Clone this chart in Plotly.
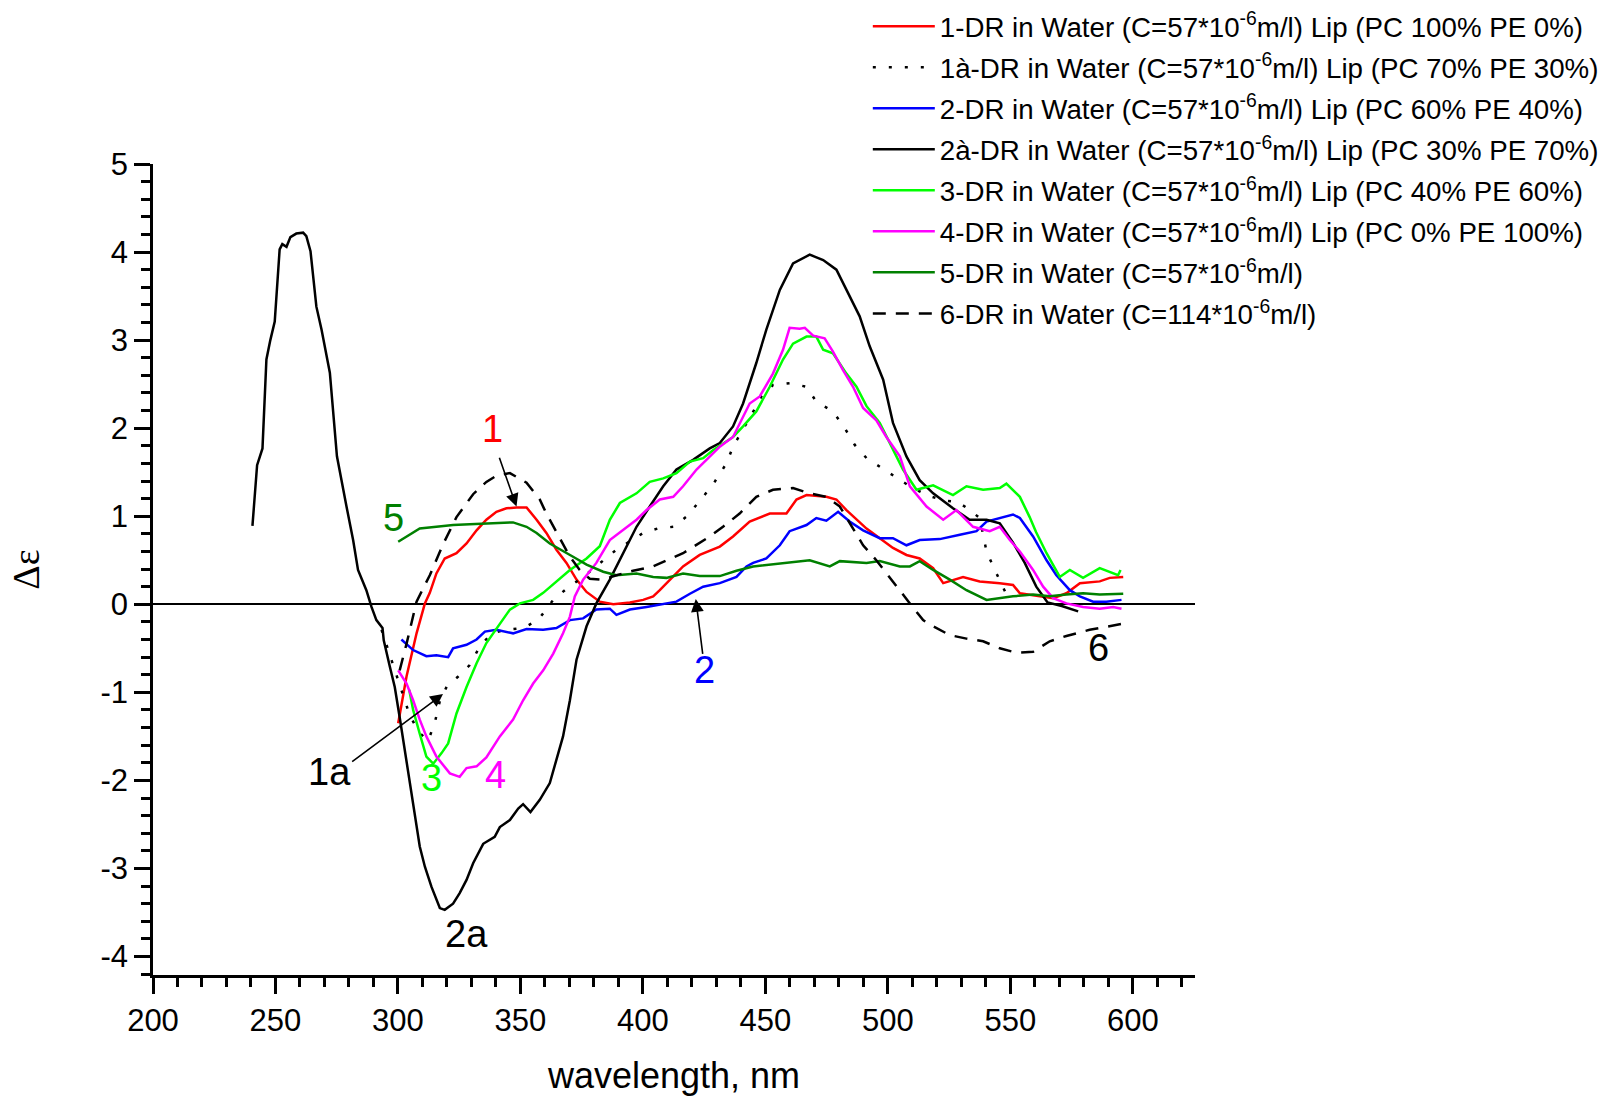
import plotly.graph_objects as go

# ---------------- data (wavelength nm, delta epsilon) ----------------
x1 = [300.1, 303.5, 307.6, 311.0, 313.0, 315.7, 319.1, 323.9, 328.0, 332.1, 336.1, 340.2, 344.3, 348.4,
      352.5, 356.6, 360.6, 364.7, 368.8, 372.9, 377.0, 382.4, 387.9, 394.7, 400.1, 404.2, 406.9, 411.0,
      416.4, 423.2, 431.4, 436.8, 443.6, 451.8, 458.6, 462.7, 466.8, 474.9, 479.0, 483.1, 487.2, 491.3,
      496.7, 502.1, 507.6, 513.0, 518.5, 522.6, 530.7, 537.5, 545.7, 551.1, 553.9, 562.0, 567.5, 572.9,
      578.4, 586.5, 590.6, 596.1]
y1 = [-1.35, -0.82, -0.33, 0.01, 0.13, 0.35, 0.52, 0.58, 0.69, 0.84, 0.96, 1.05, 1.09, 1.10,
      1.10, 0.96, 0.81, 0.62, 0.47, 0.28, 0.14, 0.03, 0.00, 0.02, 0.05, 0.09, 0.16, 0.28,
      0.43, 0.56, 0.655, 0.77, 0.94, 1.03, 1.03, 1.19, 1.24, 1.22, 1.19, 1.07, 0.96, 0.86,
      0.75, 0.64, 0.56, 0.52, 0.41, 0.24, 0.31, 0.26, 0.24, 0.22, 0.125, 0.09, 0.07, 0.125,
      0.24, 0.26, 0.30, 0.31]

x1a = [293.3, 295.6, 297.8, 300.0, 304.8, 308.5, 312.3, 315.0, 317.1, 320.0, 324.6, 329.3, 333.4, 338.2,
       344.0, 351.1, 357.2, 363.4, 369.0, 375.6, 382.0, 389.2, 395.0, 400.1, 406.0, 412.4, 418.0, 424.6,
       429.3, 434.1, 436.8, 440.9, 444.3, 448.4, 453.1, 459.9, 466.8, 470.8, 477.6, 482.4, 486.5, 491.3,
       496.7, 502.8, 509.0, 515.8, 522.6, 528.7, 533.0, 537.5, 540.3, 543.0, 546.4, 549.8]
y1a = [-0.29, -0.48, -0.67, -0.86, -1.26, -1.45, -1.55, -1.35, -1.10, -0.93, -0.82, -0.69, -0.48, -0.33,
       -0.29, -0.27, -0.18, 0.05, 0.18, 0.31, 0.46, 0.62, 0.72, 0.81, 0.86, 0.88, 1.00, 1.22,
       1.39, 1.60, 1.79, 1.98, 2.15, 2.36, 2.49, 2.51, 2.47, 2.30, 2.19, 2.00, 1.81, 1.66,
       1.56, 1.45, 1.34, 1.24, 1.18, 1.16, 1.08, 0.98, 0.60, 0.43, 0.22, 0.03]

x2 = [301.4, 306.2, 311.6, 315.7, 320.5, 322.5, 328.0, 332.1, 335.5, 340.2, 347.0, 352.5, 359.3, 364.7,
      370.2, 375.6, 381.0, 386.5, 389.2, 394.7, 401.5, 408.3, 413.7, 419.2, 424.6, 431.4, 438.2, 442.3,
      445.0, 450.4, 455.9, 459.9, 466.8, 470.8, 474.9, 479.7, 484.4, 489.9, 496.7, 502.1, 507.6, 513.0,
      521.2, 529.4, 536.2, 540.3, 545.7, 551.1, 553.9, 559.3, 564.8, 568.8, 574.3, 578.4, 583.8, 589.2,
      595.4]
y2 = [-0.40, -0.52, -0.59, -0.58, -0.60, -0.50, -0.46, -0.40, -0.31, -0.29, -0.33, -0.28, -0.29, -0.27,
      -0.18, -0.16, -0.06, -0.05, -0.12, -0.06, -0.03, 0.00, 0.03, 0.12, 0.20, 0.24, 0.31, 0.43,
      0.47, 0.52, 0.67, 0.83, 0.90, 0.98, 0.95, 1.05, 0.94, 0.84, 0.75, 0.75, 0.67, 0.73,
      0.74, 0.79, 0.83, 0.94, 0.98, 1.02, 0.98, 0.77, 0.50, 0.33, 0.16, 0.09, 0.03, 0.03,
      0.05]

x2a = [240.6, 241.2, 242.5, 244.7, 246.3, 247.9, 249.7, 251.7, 252.8, 254.5, 256.1, 258.5, 261.3, 262.6,
       264.3, 266.7, 268.8, 272.2, 275.1, 279.0, 281.7, 283.7, 287.1, 289.2, 291.2, 293.7, 294.2, 296.7,
       298.7, 300.8, 303.5, 306.2, 308.9, 311.0, 313.7, 317.1, 319.1, 322.5, 325.2, 328.0, 330.7, 334.8,
       339.5, 341.6, 345.7, 349.1, 351.1, 354.1, 357.9, 362.0, 364.7, 367.4, 370.2, 372.9, 377.0, 381.0,
       386.5, 392.0, 397.4, 402.8, 408.3, 413.7, 420.5, 427.3, 431.4, 436.8, 440.9, 446.3, 450.4, 455.9,
       461.3, 468.1, 473.6, 479.0, 483.1, 488.5, 492.6, 498.1, 502.1, 507.6, 513.0, 518.5, 526.6, 533.4,
       540.3, 545.7, 551.1, 555.9, 560.6, 565.2, 571.0, 577.7]
y2a = [0.89, 1.11, 1.58, 1.77, 2.78, 3.00, 3.21, 4.03, 4.09, 4.06, 4.17, 4.21, 4.22, 4.18,
       4.01, 3.38, 3.12, 2.63, 1.68, 1.11, 0.73, 0.39, 0.16, -0.03, -0.18, -0.27, -0.41, -0.71,
       -0.94, -1.30, -1.80, -2.28, -2.75, -2.98, -3.21, -3.45, -3.47, -3.40, -3.28, -3.13, -2.94, -2.72,
       -2.64, -2.53, -2.45, -2.32, -2.27, -2.36, -2.22, -2.03, -1.77, -1.50, -1.09, -0.63, -0.25, 0.01,
       0.28, 0.58, 0.88, 1.11, 1.34, 1.53, 1.64, 1.77, 1.83, 2.02, 2.28, 2.74, 3.12, 3.57,
       3.87, 3.97, 3.91, 3.80, 3.57, 3.27, 2.93, 2.55, 2.06, 1.68, 1.41, 1.26, 1.09, 0.96,
       0.96, 0.92, 0.70, 0.47, 0.20, 0.02, -0.02, -0.08]

x3 = [304.6, 306.2, 308.9, 311.6, 314.4, 317.8, 320.5, 323.9, 328.0, 332.1, 336.1, 340.9, 345.7, 349.8,
      355.2, 359.3, 364.7, 370.2, 377.0, 382.4, 386.5, 390.6, 397.4, 402.8, 408.3, 413.7, 419.2, 424.6,
      428.6, 436.8, 440.9, 446.3, 451.8, 457.2, 461.3, 466.8, 470.8, 473.6, 477.6, 483.1, 487.2, 491.3,
      496.7, 502.1, 506.2, 511.7, 518.5, 526.6, 532.1, 538.9, 545.7, 548.4, 553.9, 557.9, 560.5, 564.8,
      570.2, 574.3, 579.7, 586.5, 594.0, 595.0]
y3 = [-0.97, -1.20, -1.47, -1.73, -1.81, -1.69, -1.58, -1.24, -0.94, -0.67, -0.44, -0.25, -0.06, 0.01,
      0.05, 0.13, 0.26, 0.39, 0.52, 0.66, 0.96, 1.15, 1.26, 1.39, 1.43, 1.49, 1.62, 1.66,
      1.75, 1.90, 2.02, 2.19, 2.47, 2.78, 2.96, 3.04, 3.04, 2.89, 2.85, 2.62, 2.47, 2.25,
      2.06, 1.75, 1.53, 1.30, 1.35, 1.24, 1.34, 1.30, 1.32, 1.37, 1.22, 0.99, 0.82, 0.58,
      0.31, 0.39, 0.30, 0.41, 0.33, 0.39]

x4 = [300.1, 303.5, 306.2, 308.9, 311.6, 315.7, 321.2, 325.2, 328.0, 332.1, 336.1, 341.6, 347.0, 351.1,
      355.2, 359.3, 363.4, 367.4, 370.2, 372.2, 375.6, 381.0, 386.5, 393.3, 397.4, 401.5, 406.9, 412.4,
      416.4, 421.9, 427.3, 431.4, 436.8, 443.6, 447.7, 453.1, 457.2, 459.9, 464.0, 466.1, 469.5, 474.2,
      477.6, 481.7, 485.8, 489.9, 495.3, 499.4, 504.9, 509.0, 515.8, 522.6, 528.0, 534.8, 541.6, 545.7,
      549.8, 553.9, 559.3, 563.4, 567.5, 572.9, 579.7, 586.5, 592.0, 595.4]
y4 = [-0.75, -0.90, -1.09, -1.31, -1.50, -1.73, -1.92, -1.96, -1.86, -1.84, -1.74, -1.50, -1.31, -1.09,
      -0.90, -0.75, -0.56, -0.33, -0.14, 0.09, 0.28, 0.47, 0.73, 0.88, 0.96, 1.07, 1.19, 1.22,
      1.34, 1.53, 1.68, 1.79, 1.90, 2.28, 2.36, 2.62, 2.89, 3.14, 3.13, 3.14, 3.05, 3.02,
      2.87, 2.66, 2.47, 2.23, 2.09, 1.90, 1.68, 1.34, 1.11, 0.96, 1.07, 0.88, 0.83, 0.88,
      0.73, 0.60, 0.39, 0.20, 0.07, 0.01, -0.03, -0.05, -0.03, -0.05]

x5 = [300.1, 303.5, 308.9, 315.7, 322.5, 329.3, 336.1, 342.9, 347.0, 352.5, 356.6, 362.0, 367.4, 371.5,
      377.0, 383.8, 389.2, 397.4, 404.2, 409.6, 416.4, 423.2, 431.4, 438.2, 445.0, 451.8, 458.0, 464.0,
      468.1, 476.3, 480.4, 491.3, 496.7, 504.9, 509.0, 513.0, 518.5, 525.3, 532.1, 540.3, 545.7, 551.1,
      559.3, 566.1, 572.9, 579.7, 586.5, 596.1]
y5 = [0.71, 0.77, 0.86, 0.88, 0.90, 0.91, 0.92, 0.93, 0.93, 0.88, 0.81, 0.69, 0.60, 0.54,
      0.45, 0.37, 0.33, 0.35, 0.31, 0.30, 0.35, 0.32, 0.32, 0.38, 0.43, 0.45, 0.47, 0.49,
      0.50, 0.43, 0.49, 0.47, 0.49, 0.43, 0.43, 0.49, 0.39, 0.28, 0.16, 0.05, 0.07, 0.09,
      0.11, 0.09, 0.11, 0.125, 0.11, 0.12]

x6 = [300.7, 303.5, 307.6, 313.0, 318.4, 323.9, 330.7, 336.1, 340.2, 345.7, 352.5, 357.9, 360.6, 366.1,
      370.2, 374.2, 378.3, 383.8, 389.2, 396.0, 404.2, 416.4, 427.3, 432.7, 439.5, 446.3, 453.1, 461.3,
      468.1, 474.9, 480.4, 485.8, 489.9, 495.3, 499.4, 504.9, 509.0, 514.4, 518.5, 525.3, 532.1, 538.9,
      545.7, 552.5, 559.3, 566.1, 572.9, 582.4, 590.6, 596.1]
y6 = [-0.75, -0.45, 0.03, 0.33, 0.68, 0.99, 1.25, 1.39, 1.46, 1.49, 1.38, 1.19, 1.03, 0.75,
      0.54, 0.39, 0.29, 0.28, 0.33, 0.38, 0.43, 0.58, 0.77, 0.88, 1.03, 1.22, 1.30, 1.32,
      1.26, 1.22, 1.11, 0.86, 0.67, 0.50, 0.35, 0.16, 0.01, -0.18, -0.25, -0.35, -0.39, -0.42,
      -0.50, -0.55, -0.54, -0.42, -0.36, -0.29, -0.25, -0.22]

names = [
    "1-DR in Water (C=57*10<sup>-6</sup>m/l) Lip (PC 100% PE 0%)",
    "1à-DR in Water (C=57*10<sup>-6</sup>m/l) Lip (PC 70% PE 30%)",
    "2-DR in Water (C=57*10<sup>-6</sup>m/l) Lip (PC 60% PE 40%)",
    "2à-DR in Water (C=57*10<sup>-6</sup>m/l) Lip (PC 30% PE 70%)",
    "3-DR in Water (C=57*10<sup>-6</sup>m/l) Lip (PC 40% PE 60%)",
    "4-DR in Water (C=57*10<sup>-6</sup>m/l) Lip (PC 0% PE 100%)",
    "5-DR in Water (C=57*10<sup>-6</sup>m/l)",
    "6-DR in Water (C=114*10<sup>-6</sup>m/l)",
]

# axis ticks
x_tickvals = [200, 250, 300, 350, 400, 450, 500, 550, 600]
x_ticktext = ["200", "250", "300", "350", "400", "450", "500", "550", "600"]
y_tickvals = [-4, -3, -2, -1, 0, 1, 2, 3, 4, 5]
y_ticktext = ["-4", "-3", "-2", "-1", "0", "1", "2", "3", "4", "5"]

# curve labels: text, x, y, color
label_text = ["1", "1a", "2", "2a", "3", "4", "5", "6"]
label_x = [338.8, 272.0, 425.0, 328.0, 313.8, 339.7, 298.0, 585.9]
label_y = [1.99, -1.91, -0.75, -3.74, -1.97, -1.94, 0.98, -0.50]
# arrows: head (x, y), tail (x, y)
arrow_head_x = [348.4, 318.4, 421.6]
arrow_head_y = [1.11, -1.02, 0.06]
arrow_tail_x = [341.2, 280.7, 424.5]
arrow_tail_y = [1.68, -1.80, -0.58]

# ---------------- styling ----------------
FONT = "Liberation Sans, Arial, sans-serif"
series = [
    (x1, y1, "#FF0000", "solid"),
    (x1a, y1a, "#000000", "3px,13px"),
    (x2, y2, "#0000FF", "solid"),
    (x2a, y2a, "#000000", "solid"),
    (x3, y3, "#00FF00", "solid"),
    (x4, y4, "#FF00FF", "solid"),
    (x5, y5, "#008000", "solid"),
    (x6, y6, "#000000", "13px,10px"),
]
label_colors = ["#FF0000", "#000000", "#0000FF", "#000000", "#00FF00", "#FF00FF", "#008000", "#000000"]

fig = go.Figure()
for i, (xs, ys, col, dash) in enumerate(series):
    fig.add_trace(go.Scatter(
        x=xs, y=ys, mode="lines", name=names[i], legendgroup=f"g{i}",
        line=dict(color=col, width=2.5, dash=dash),
    ))

for t, lx, ly, c in zip(label_text, label_x, label_y, label_colors):
    fig.add_annotation(x=lx, y=ly, xref="x", yref="y", text=t, showarrow=False,
                       font=dict(family=FONT, size=38, color=c))

for hx, hy, tx, ty in zip(arrow_head_x, arrow_head_y, arrow_tail_x, arrow_tail_y):
    fig.add_annotation(x=hx, y=hy, ax=tx, ay=ty, xref="x", yref="y", axref="x", ayref="y",
                       text="", showarrow=True, arrowhead=2, arrowsize=1.6, arrowwidth=1.6,
                       arrowcolor="#000000", standoff=0, startstandoff=0)

fig.update_layout(
    width=1605, height=1096,
    paper_bgcolor="white", plot_bgcolor="white",
    margin=dict(l=153, r=410, t=164, b=121, autoexpand=False),
    font=dict(family=FONT, size=31, color="black"),
    showlegend=True,
    legend=dict(
        x=0.686, y=1.2, xanchor="left", yanchor="top",
        font=dict(family=FONT, size=27.7, color="black"),
        bgcolor="rgba(0,0,0,0)", borderwidth=0,
        itemwidth=62, tracegroupgap=2, itemclick=False,
    ),
    xaxis=dict(
        range=[200, 625.4], showgrid=False, zeroline=False,
        showline=True, linecolor="black", linewidth=2.5,
        ticks="outside", ticklen=16, tickwidth=2.5, tickcolor="black",
        tickmode="array", tickvals=x_tickvals, ticktext=x_ticktext,
        minor=dict(dtick=10, tick0=200, ticks="outside", ticklen=9, tickwidth=2.5,
                   tickcolor="black", showgrid=False),
        tickfont=dict(family=FONT, size=31),
        title=dict(text="wavelength, nm", font=dict(family=FONT, size=36), standoff=28),
    ),
    yaxis=dict(
        range=[-4.21, 5], showgrid=False,
        zeroline=True, zerolinecolor="black", zerolinewidth=2,
        showline=True, linecolor="black", linewidth=2.5,
        ticks="outside", ticklen=16, tickwidth=2.5, tickcolor="black",
        tickmode="array", tickvals=y_tickvals, ticktext=y_ticktext,
        minor=dict(dtick=0.2, tick0=0, ticks="outside", ticklen=9, tickwidth=2.5,
                   tickcolor="black", showgrid=False),
        tickfont=dict(family=FONT, size=31),
        title=dict(text="Δε", font=dict(family="Liberation Serif, Times New Roman, serif", size=38), standoff=50),
    ),
)

fig.write_html(
    "out.html",
    config={"displayModeBar": False, "staticPlot": False},
    post_script="document.body.style.margin='0';document.body.style.overflow='hidden';",
)
